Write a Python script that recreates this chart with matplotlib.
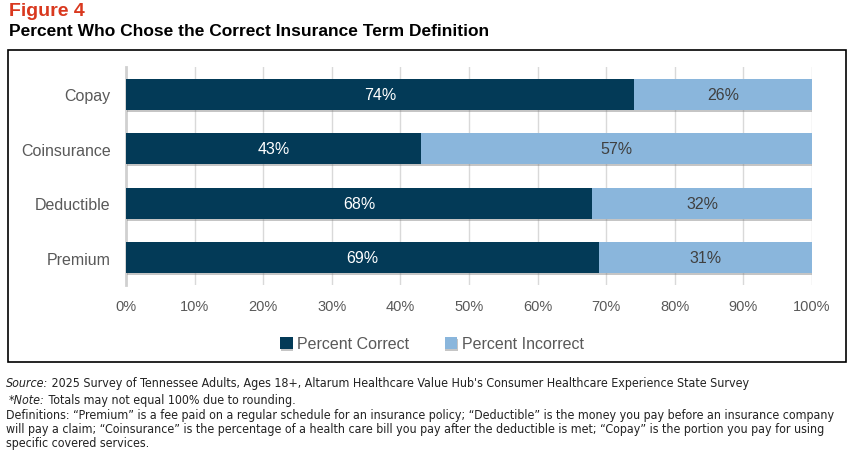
import matplotlib.pyplot as plt
import matplotlib.patheffects as pe
from matplotlib.patches import Rectangle

# data
categories = ["Copay", "Coinsurance", "Deductible", "Premium"]
correct = [74, 43, 68, 69]
incorrect = [26, 57, 32, 31]
xticks = [0, 10, 20, 30, 40, 50, 60, 70, 80, 90, 100]

dark = "#033a57"
light = "#8ab6dc"
grey_txt = "#595959"

plt.rcParams['font.family'] = ['Liberation Sans', 'DejaVu Sans']

fig = plt.figure(figsize=(8.54, 4.56), dpi=100)
ax = fig.add_axes([126 / 854, 1 - 286 / 456, 686 / 854, 218 / 456])

ypos = list(range(len(categories)))
shadow = [pe.SimplePatchShadow(offset=(0.6, -1.6), shadow_rgbFace="#7f7f7f", alpha=0.45), pe.Normal()]
b1 = ax.barh(ypos, correct, height=0.56, color=dark, label="Percent Correct", zorder=3,
             path_effects=shadow)
b2 = ax.barh(ypos, incorrect, left=correct, height=0.56, color=light, label="Percent Incorrect",
             zorder=3, path_effects=shadow)

for i in ypos:
    ax.text(correct[i] / 2, i, f"{correct[i]}%", ha="center", va="center", color="white",
            fontsize=11.5, zorder=4)
    ax.text(correct[i] + incorrect[i] / 2, i, f"{incorrect[i]}%", ha="center", va="center",
            color="#404040", fontsize=11.5, zorder=4)

ax.set_xlim(0, 100)
ax.set_ylim(3.5, -0.5)
ax.set_yticks(ypos)
ax.set_yticklabels(categories, fontsize=11.5, color=grey_txt)
ax.set_xticks(xticks)
ax.set_xticklabels([f"{t}%" for t in xticks], fontsize=10.5, color=grey_txt)
ax.tick_params(length=0)
ax.tick_params(axis="y", pad=11)
ax.tick_params(axis="x", pad=10)
ax.grid(axis="x", color="#d9d9d9", linewidth=1, zorder=0)
for s in ["top", "right", "bottom"]:
    ax.spines[s].set_visible(False)
ax.spines["left"].set_color("#d0d0d0")
ax.spines["left"].set_linewidth(2)

fig.legend(handles=[b1, b2], loc="center", bbox_to_anchor=(432 / 854, 1 - 345 / 456),
           ncol=2, frameon=False, fontsize=11.5, labelcolor=grey_txt,
           handlelength=0.8, handleheight=0.8, handletextpad=0.3, columnspacing=2.2)

# frame around the chart
fig.patches.append(Rectangle((8 / 854, 1 - 363 / 456), 838 / 854, 312 / 456,
                             transform=fig.transFigure, fill=False, edgecolor="black",
                             linewidth=1.2))

# titles
fig.text(9 / 854, 1 - 11 / 456, "Figure 4", color="#d9381e", fontsize=14,
         fontweight="bold", va="center", ha="left")
fig.text(9 / 854, 1 - 31 / 456, "Percent Who Chose the Correct Insurance Term Definition",
         color="black", fontsize=12.5, fontweight="bold", va="center", ha="left")

# footer notes, sized so the longest line fits inside the figure
foot = dict(family=['DejaVu Sans'], fontstretch="condensed", color="#222222", va="center")
def_lines = [
    "Definitions: \u201cPremium\u201d is a fee paid on a regular schedule for an insurance policy; \u201cDeductible\u201d is the money you pay before an insurance company",
    "will pay a claim; \u201cCoinsurance\u201d is the percentage of a health care bill you pay after the deductible is met; \u201cCopay\u201d is the portion you pay for using",
    "specific covered services.",
]
renderer = fig.canvas.get_renderer()
probe = fig.text(0, 0, def_lines[0], fontsize=9, **foot)
w = probe.get_window_extent(renderer).width
probe.remove()
fs = min(9, 9 * 830 / w)


def runs(x, y, parts):
    # parts: list of (text, style); each run placed after the previous one
    for txt, st in parts:
        t = fig.text(x / 854, 1 - y / 456, txt, fontsize=fs, style=st, **foot)
        x += t.get_window_extent(renderer).width


runs(6, 384, [("Source:", "italic"),
              (" 2025 Survey of Tennessee Adults, Ages 18+, Altarum Healthcare Value Hub's Consumer Healthcare Experience State Survey", "normal")])
runs(9, 401, [("*Note:", "italic"), (" Totals may not equal 100% due to rounding.", "normal")])
for k, line in enumerate(def_lines):
    fig.text(6 / 854, 1 - (416 + 14 * k) / 456, line, fontsize=fs, **foot)

fig.savefig("out.png", dpi=100)
